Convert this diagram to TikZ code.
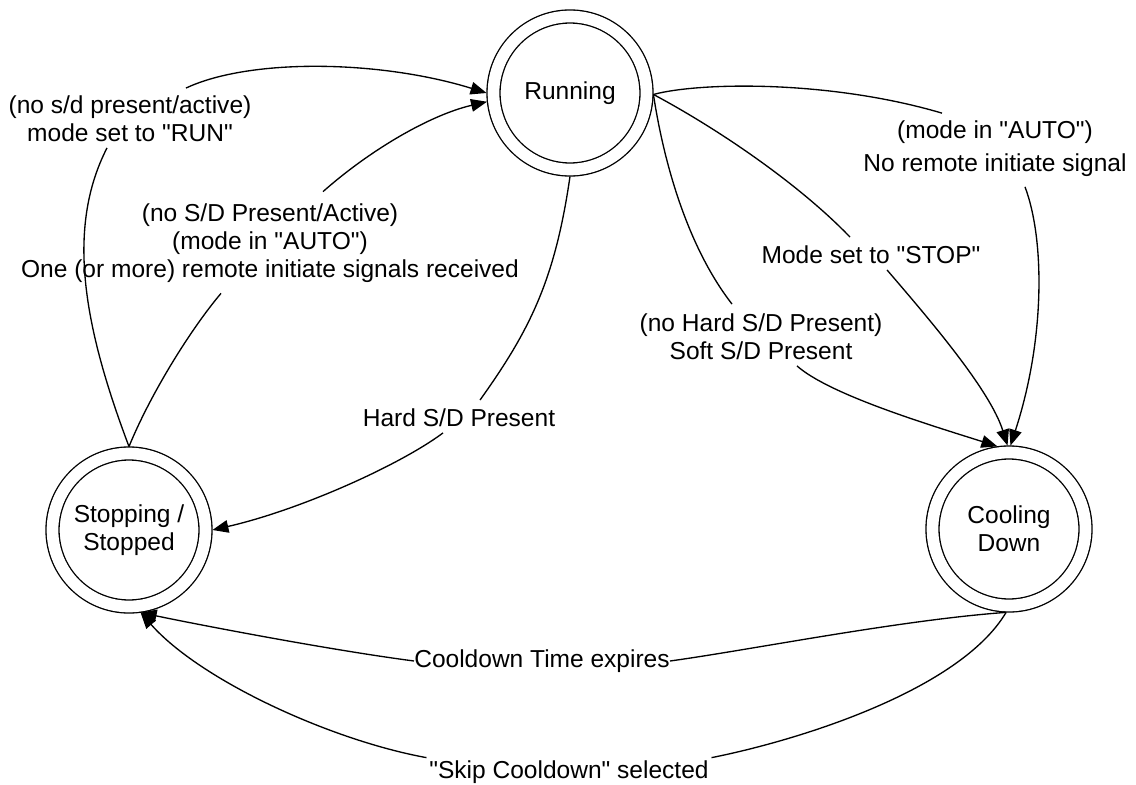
\documentclass[tikz,border=0pt]{standalone}
\usepackage{fontspec}
\setmainfont{Liberation Sans}
\usetikzlibrary{arrows.meta,calc}
\definecolor{ink}{RGB}{0,0,0}
\tikzset{
  state/.style={circle, draw=ink, double, double distance=8.75pt, line width=1pt,
                minimum size=114.75pt, inner sep=0pt, outer sep=5.2pt, align=center, text=ink},
  tlbl/.style={align=center, inner sep=2pt, text=ink},
  ln/.style={line width=1pt, draw=ink},
  arr/.style={ln, -{Triangle[length=12pt, width=9.5pt]}},
}

\begin{document}
\begin{tikzpicture}[x=0.75pt, y=-0.75pt, font=\fontsize{18.4}{21}\selectfont]
  \useasboundingbox (0,0) rectangle (1136,785);

  % states
  \node[state] (run)  at (570,93)  {Running};
  \node[state] (stop) at (129,530) {Stopping /\\Stopped};
  \node[state] (cool) at (1009,529) {Cooling\\Down};

  % transition labels
  \node[tlbl] (lblRun)   at (130,119) {(no s/d present/active)\\mode set to \textquotedbl RUN\textquotedbl};
  \node[tlbl] (lblAuto)  at (270,243) {(no S/D Present/Active)\\(mode in \textquotedbl AUTO\textquotedbl)\\One (or more) remote initiate signals received};
  \node[tlbl] (lblHard)  at (459,418) {Hard S/D Present};
  \node[tlbl] (lblNoRem) at (995,149) {(mode in \textquotedbl AUTO\textquotedbl)\\[3.75pt]No remote initiate signal};
  \node[tlbl] (lblStop)  at (871,255) {Mode set to \textquotedbl STOP\textquotedbl};
  \node[tlbl] (lblSoft)  at (761,337) {(no Hard S/D Present)\\Soft S/D Present};
  \node[tlbl, inner sep=0pt] (lblCool) at (542,661) {Cooldown Time expires};
  \node[tlbl] (lblSkip)  at (569,772) {\textquotedbl Skip Cooldown\textquotedbl{} selected};

  % stopped -> running
  \draw[ln] (stop.north) .. controls (85,330) and (65,230) .. ($(lblRun.south)+(-23,3)$);
  \draw[arr] ($(lblRun.north)+(56,-5)$) .. controls (250,58) and (380,60) .. (run.180);
  \draw[ln] (stop.north) .. controls (150,395) and (190,330) .. ($(lblAuto.south)+(-49,8)$);
  \draw[arr] ($(lblAuto.north)+(53,-9)$) .. controls (370,150) and (430,115) .. (run.186);

  % running -> stopped
  \draw[ln] (run.south) .. controls (555,280) and (530,330) .. ($(lblHard.north)+(21,-6)$);
  \draw[arr] ($(lblHard.south)+(-16,3)$) .. controls (400,465) and (300,510) .. (stop.east);

  % running -> cooling down
  \draw[ln] (run.-1) .. controls (700,82) and (830,80) .. ($(lblNoRem.north)+(-53,-5)$);
  \draw[arr] ($(lblNoRem.south)+(30,7)$) .. controls (1045,240) and (1045,340) .. (cool.89);
  \draw[ln] (run.-1) .. controls (720,130) and (800,185) .. ($(lblStop.north)+(-21,-6)$);
  \draw[arr] ($(lblStop.south)+(16,3)$) .. controls (930,320) and (990,390) .. (cool.91);
  \draw[ln] (run.-1) .. controls (665,170) and (690,250) .. ($(lblSoft.north)+(-29,-7)$);
  \draw[arr] ($(lblSoft.south)+(36,3)$) .. controls (830,395) and (930,425) .. (cool.98);

  % cooling down -> stopped
  \draw[ln] (cool.268) .. controls (900,620) and (750,650) .. (lblCool.east);
  \draw[arr] (lblCool.west) .. controls (330,650) and (200,625) .. (stop.278);
  \draw[ln] (cool.268) .. controls (960,690) and (800,740) .. (lblSkip.north east);
  \draw[arr] (lblSkip.north west) .. controls (330,740) and (200,680) .. (stop.278);
\end{tikzpicture}
\end{document}
